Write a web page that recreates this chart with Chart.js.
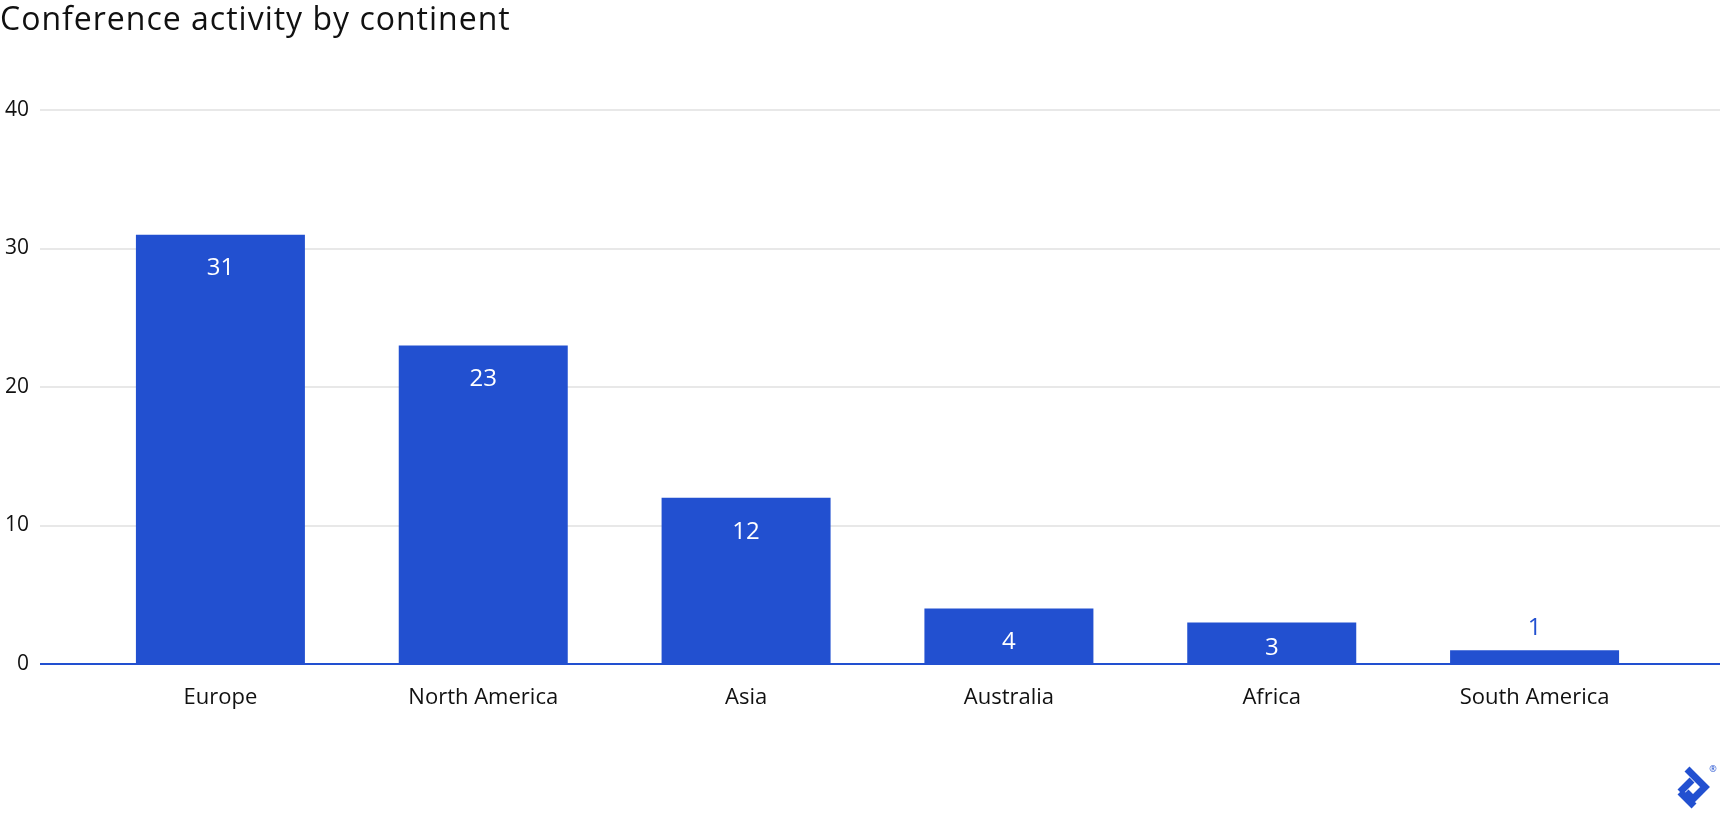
<!DOCTYPE html>
<html>
<head>
<meta charset="utf-8">
<script src="https://cdn.jsdelivr.net/npm/chart.js@4.4.1/dist/chart.umd.min.js"></script>
<style>
  body { margin: 0; background: #fff; }
  canvas { display: block; }
</style>
</head>
<body>
<canvas id="chart" width="1720" height="814"></canvas>
<script>
const continents = ['Europe', 'North America', 'Asia', 'Australia', 'Africa', 'South America'];
const conferences = [31, 23, 12, 4, 3, 1];
const yTicks = [0, 10, 20, 30, 40];

const BLUE = '#2250d0';
const FONT = '"Open Sans", "Noto Sans", sans-serif';

// title, grid lines, value labels and logo
const decor = {
    id: 'decor',
    beforeDatasetsDraw(chart) {
        const ctx = chart.ctx;
        const y = chart.scales.y;
        ctx.save();
        ctx.strokeStyle = '#e8e8e8';
        ctx.lineWidth = 2;
        yTicks.forEach(function(t) {
            if (t === 0) return;
            const py = Math.round(y.getPixelForValue(t));
            ctx.beginPath();
            ctx.moveTo(40, py);
            ctx.lineTo(chart.width, py);
            ctx.stroke();
        });
        ctx.restore();
    },
    afterDatasetsDraw(chart) {
        const ctx = chart.ctx;
        const y = chart.scales.y;
        ctx.save();
        // baseline
        ctx.strokeStyle = BLUE;
        ctx.lineWidth = 2;
        const py0 = Math.round(y.getPixelForValue(0));
        ctx.beginPath();
        ctx.moveTo(40, py0);
        ctx.lineTo(chart.width, py0);
        ctx.stroke();

        // value labels
        ctx.font = '24px ' + FONT;
        ctx.textAlign = 'center';
        ctx.textBaseline = 'middle';
        chart.getDatasetMeta(0).data.forEach(function(bar, i) {
            const h = bar.base - bar.y;
            let ly;
            if (h > 30) {
                ctx.fillStyle = '#fff';
                ly = Math.min(bar.y + 34, bar.base - 16);
            } else {
                ctx.fillStyle = BLUE;
                ly = bar.y - 22;
            }
            ctx.fillText(conferences[i], bar.x, ly);
        });

        // title
        ctx.fillStyle = '#111';
        ctx.font = '32px ' + FONT;
        ctx.letterSpacing = '1px';
        ctx.textAlign = 'left';
        ctx.textBaseline = 'alphabetic';
        ctx.fillText('Conference activity by continent', 0, 30);
        ctx.letterSpacing = '0px';

        // logo
        ctx.strokeStyle = BLUE;
        ctx.lineWidth = 7;
        ctx.lineJoin = 'miter';
        ctx.beginPath();
        ctx.moveTo(1680, 792);
        ctx.lineTo(1694, 806);
        ctx.moveTo(1680, 792);
        ctx.lineTo(1692, 780);
        ctx.moveTo(1687, 769);
        ctx.lineTo(1705, 787);
        ctx.lineTo(1693, 799);
        ctx.lineTo(1686, 792);
        ctx.stroke();
        ctx.fillStyle = BLUE;
        ctx.font = '9px ' + FONT;
        ctx.textAlign = 'center';
        ctx.textBaseline = 'middle';
        ctx.fillText('®', 1713, 769);
        ctx.restore();
    }
};

new Chart(document.getElementById('chart').getContext('2d'), {
    type: 'bar',
    data: {
        labels: continents,
        datasets: [{
            data: conferences,
            backgroundColor: BLUE,
            borderWidth: 0,
            categoryPercentage: 1,
            barPercentage: 0.643
        }]
    },
    options: {
        responsive: false,
        animation: false,
        layout: { padding: { top: 110, right: 54, left: 0, bottom: 0 } },
        plugins: {
            legend: { display: false },
            title: { display: false },
            tooltip: { enabled: false }
        },
        scales: {
            x: {
                grid: { display: false, drawTicks: false },
                border: { display: false },
                ticks: { color: '#111', padding: 21, font: { family: FONT, size: 22 } },
                afterFit: function(s) { s.height = 150; }
            },
            y: {
                min: 0,
                max: 40,
                grid: { display: false, drawTicks: false },
                border: { display: false },
                ticks: {
                    stepSize: 10,
                    color: '#111',
                    padding: 60,
                    font: { family: FONT, size: 21 }
                },
                afterFit: function(s) { s.width = 89; }
            }
        }
    },
    plugins: [decor]
});
</script>
</body>
</html>
